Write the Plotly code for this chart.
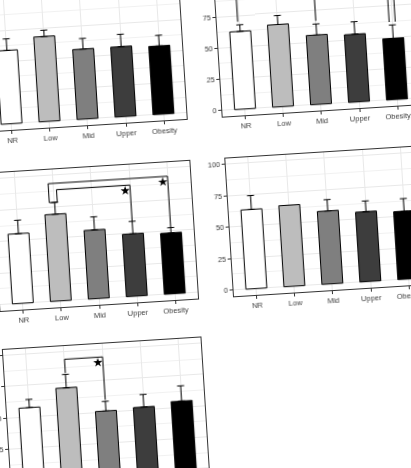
import plotly.graph_objects as go
from plotly.subplots import make_subplots

groups = ["NR", "Low", "Mid", "Upper", "Obesity"]
bar_fills = ["#ffffff", "#bdbdbd", "#7f7f7f", "#3d3d3d", "#000000"]

# mean and sd per group for each panel
a_mean = [58.7, 68.0, 56.0, 56.0, 54.7]
a_sd = [9.3, 5.0, 8.5, 9.9, 8.5]
b_mean = [62.2, 65.8, 55.5, 54.2, 49.0]
b_sd = [5.3, 7.2, 8.8, 10.0, 10.7]
c_mean = [55.4, 69.0, 54.6, 49.6, 48.4]
c_sd = [10.7, 9.4, 10.4, 9.9, 4.2]
d_mean = [63.0, 64.5, 58.0, 55.5, 54.0]
d_sd = [11.0, 0.0, 9.0, 8.5, 10.0]
e_mean = [57.2, 71.2, 50.7, 51.9, 54.8]
e_sd = [6.6, 10.7, 7.7, 10.1, 12.2]

# significance brackets: (from group, to group, bracket level)
a_sig = []
b_sig = [("NR", "Obesity", 97), ("Mid", "Obesity", 92)]
c_sig = [("Low", "Obesity", 93.5), ("Low", "Upper", 88.4)]
d_sig = []
e_sig = [("Low", "Mid", 94)]

W, H = 520, 600

panels = [
    # data, brackets, row, col, leg offsets, leg gap, join left legs
    dict(mean=a_mean, sd=a_sd, sig=a_sig, row=1, col=1, offs=[], gap=0, join=False),
    dict(mean=b_mean, sd=b_sd, sig=b_sig, row=1, col=2,
         offs=[(-0.05, 0.08), (0.0, -0.08)], gap=2.5, join=False),
    dict(mean=c_mean, sd=c_sd, sig=c_sig, row=2, col=1,
         offs=[(-0.14, 0.0), (0.07, 0.0)], gap=0, join=True),
    dict(mean=d_mean, sd=d_sd, sig=d_sig, row=2, col=2, offs=[], gap=0, join=False),
    dict(mean=e_mean, sd=e_sd, sig=e_sig, row=3, col=1, offs=[(0.0, 0.0)], gap=1.2, join=False),
]

# plot-area pixel boxes (before the page tilt)
col_px = {1: (56, 254), 2: (290, 488)}
row_px = {1: (40.5, 178), 2: (219.5, 358), 3: (396.5, 534)}

fig = make_subplots(rows=3, cols=2, specs=[[{}, {}], [{}, {}], [{}, None]])

xpos = list(range(1, len(groups) + 1))

for p in panels:
    r, c = p["row"], p["col"]
    fig.add_trace(
        go.Bar(
            x=xpos,
            y=p["mean"],
            width=0.55,
            marker=dict(color=bar_fills, line=dict(color="black", width=1)),
            error_y=dict(
                type="data",
                symmetric=False,
                array=p["sd"],
                arrayminus=[0] * len(groups),
                color="black",
                thickness=1,
                width=3.5,
            ),
            showlegend=False,
        ),
        row=r,
        col=c,
    )

    tops = [m + s for m, s in zip(p["mean"], p["sd"])]
    star_x, star_y = [], []
    for k, (g1, g2, level) in enumerate(p["sig"]):
        i1, i2 = groups.index(g1), groups.index(g2)
        o1, o2 = p["offs"][k]
        y1 = tops[i1] + p["gap"]
        y2 = tops[i2] + p["gap"]
        bx = [xpos[i1] + o1, xpos[i1] + o1, xpos[i2] + o2, xpos[i2] + o2]
        by = [y1, level, level, y2]
        if p["join"]:
            bx = [xpos[i1]] + bx
            by = [y1] + by
        fig.add_trace(
            go.Scatter(x=bx, y=by, mode="lines", line=dict(color="black", width=1),
                       showlegend=False, hoverinfo="skip"),
            row=r, col=c,
        )
        star_x.append(xpos[i2] + o2 - 0.13)
        star_y.append(level - 4.3)
    if star_x:
        fig.add_trace(
            go.Scatter(x=star_x, y=star_y, mode="markers",
                       marker=dict(symbol="star", size=7, color="black"),
                       showlegend=False, hoverinfo="skip"),
            row=r, col=c,
        )

    x0, x1 = col_px[c]
    y0, y1 = row_px[r]
    fig.update_xaxes(
        domain=[x0 / W, x1 / W],
        range=[0.4, 5.6],
        tickvals=xpos,
        ticktext=groups,
        row=r, col=c,
    )
    fig.update_yaxes(
        domain=[1 - y1 / H, 1 - y0 / H],
        range=[-5, 105],
        tickvals=[0, 25, 50, 75, 100],
        minor=dict(dtick=12.5, tick0=0, showgrid=True, gridcolor="#f1f1f1", gridwidth=0.6),
        row=r, col=c,
    )

fig.update_xaxes(
    showline=True, mirror=True, linecolor="#333333", linewidth=1,
    ticks="outside", ticklen=3, tickcolor="#333333",
    showgrid=True, gridcolor="#e8e8e8", gridwidth=0.8, zeroline=False,
    tickfont=dict(family="Liberation Sans, Arial", size=7.5, color="#404040"),
)
fig.update_yaxes(
    showline=True, mirror=True, linecolor="#333333", linewidth=1,
    ticks="outside", ticklen=3, tickcolor="#333333",
    showgrid=True, gridcolor="#e8e8e8", gridwidth=0.8, zeroline=False,
    tickfont=dict(family="Liberation Sans, Arial", size=7.5, color="#404040"),
)

fig.update_layout(
    width=W,
    height=H,
    margin=dict(l=0, r=0, t=0, b=0),
    paper_bgcolor="white",
    plot_bgcolor="white",
    bargap=0.45,
    showlegend=False,
)

# the source figure is a slightly tilted, soft photo of the page
tilt = """
var gd = document.getElementById('{plot_id}');
document.documentElement.style.overflow = 'hidden';
document.body.style.overflow = 'hidden';
document.body.style.margin = '0';
gd.style.position = 'absolute';
gd.style.left = '-60px';
gd.style.top = '-60px';
gd.style.transformOrigin = '265px 294px';
gd.style.transform = 'rotate(-3.6deg)';
gd.style.filter = 'grayscale(1) blur(0.3px)';
"""

fig.write_html("out.html", config={"displayModeBar": False}, post_script=tilt)
